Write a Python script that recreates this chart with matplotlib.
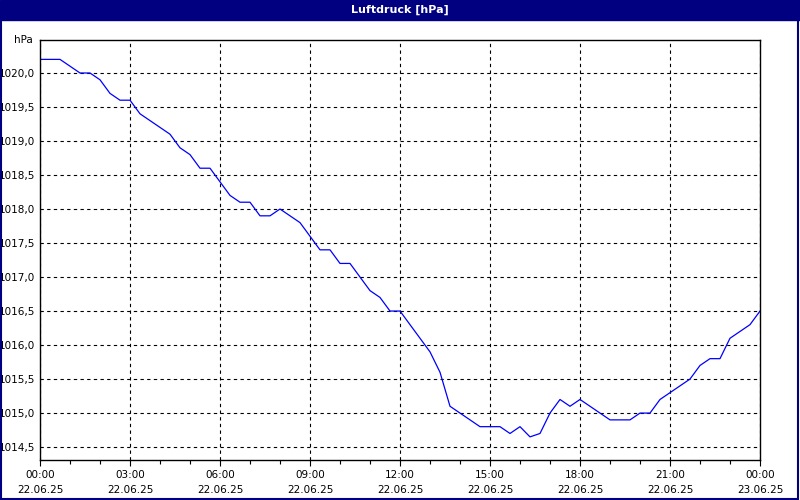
import matplotlib
matplotlib.use("Agg")
import matplotlib.pyplot as plt
from matplotlib.patches import Rectangle
import numpy as np

hours = [i / 3 for i in range(73)]
pressure = [1020.2, 1020.2, 1020.2, 1020.1, 1020.0, 1020.0, 1019.9, 1019.7, 1019.6,
            1019.6, 1019.4, 1019.3, 1019.2, 1019.1, 1018.9, 1018.8, 1018.6, 1018.6,
            1018.4, 1018.2, 1018.1, 1018.1, 1017.9, 1017.9, 1018.0, 1017.9, 1017.8,
            1017.6, 1017.4, 1017.4, 1017.2, 1017.2, 1017.0, 1016.8, 1016.7, 1016.5,
            1016.5, 1016.3, 1016.1, 1015.9, 1015.6, 1015.1, 1015.0, 1014.9, 1014.8,
            1014.8, 1014.8, 1014.7, 1014.8, 1014.65, 1014.7, 1015.0, 1015.2, 1015.1,
            1015.2, 1015.1, 1015.0, 1014.9, 1014.9, 1014.9, 1015.0, 1015.0, 1015.2,
            1015.3, 1015.4, 1015.5, 1015.7, 1015.8, 1015.8, 1016.1, 1016.2, 1016.3, 1016.5]
yticks = [1014.5, 1015.0, 1015.5, 1016.0, 1016.5, 1017.0, 1017.5, 1018.0, 1018.5, 1019.0, 1019.5, 1020.0]
xticks = [0, 3, 6, 9, 12, 15, 18, 21, 24]
xlabels = ["00:00\n22.06.25", "03:00\n22.06.25", "06:00\n22.06.25", "09:00\n22.06.25",
           "12:00\n22.06.25", "15:00\n22.06.25", "18:00\n22.06.25", "21:00\n22.06.25",
           "00:00\n23.06.25"]
title = "Luftdruck [hPa]"
navy = "#000080"

fig = plt.figure(figsize=(8, 5), dpi=100)
fig.patch.set_facecolor("white")
fig.patches.append(Rectangle((0, 0.96), 1, 0.04, transform=fig.transFigure, color=navy, zorder=0))
fig.patches.append(Rectangle((0.001, 0.002), 0.997, 0.96, transform=fig.transFigure,
                             fill=False, edgecolor=navy, lw=1.5, zorder=0))
fig.text(0.5, 0.98, title, color="white", ha="center", va="center", fontsize=8, fontweight="bold")

ax = fig.add_axes([0.05, 0.08, 0.90, 0.84])
ax.plot(hours, pressure, color="blue", lw=0.9, drawstyle="default")
ax.set_xlim(0, 24)
ax.set_ylim(1014.31, 1020.485)
ax.set_xticks(xticks)
ax.set_xticklabels(xlabels, fontsize=7.5, linespacing=1.6)
ax.set_xticks(range(25), minor=True)
ax.set_yticks(yticks)
ax.set_yticklabels([f"{v:.1f}".replace(".", ",") for v in yticks], fontsize=7.5)
ax.tick_params(direction="out", length=4, width=0.8)
ax.tick_params(which="minor", direction="out", length=3, width=0.8)
ax.tick_params(axis="y", length=0)
ax.grid(True, color="black", linestyle=(0, (3, 3)), lw=0.8)
for s in ax.spines.values():
    s.set_linewidth(1.0)
ax.text(-0.01, 1.0, "hPa", transform=ax.transAxes, ha="right", va="center", fontsize=7.5)
fig.savefig("out.png", dpi=100)
